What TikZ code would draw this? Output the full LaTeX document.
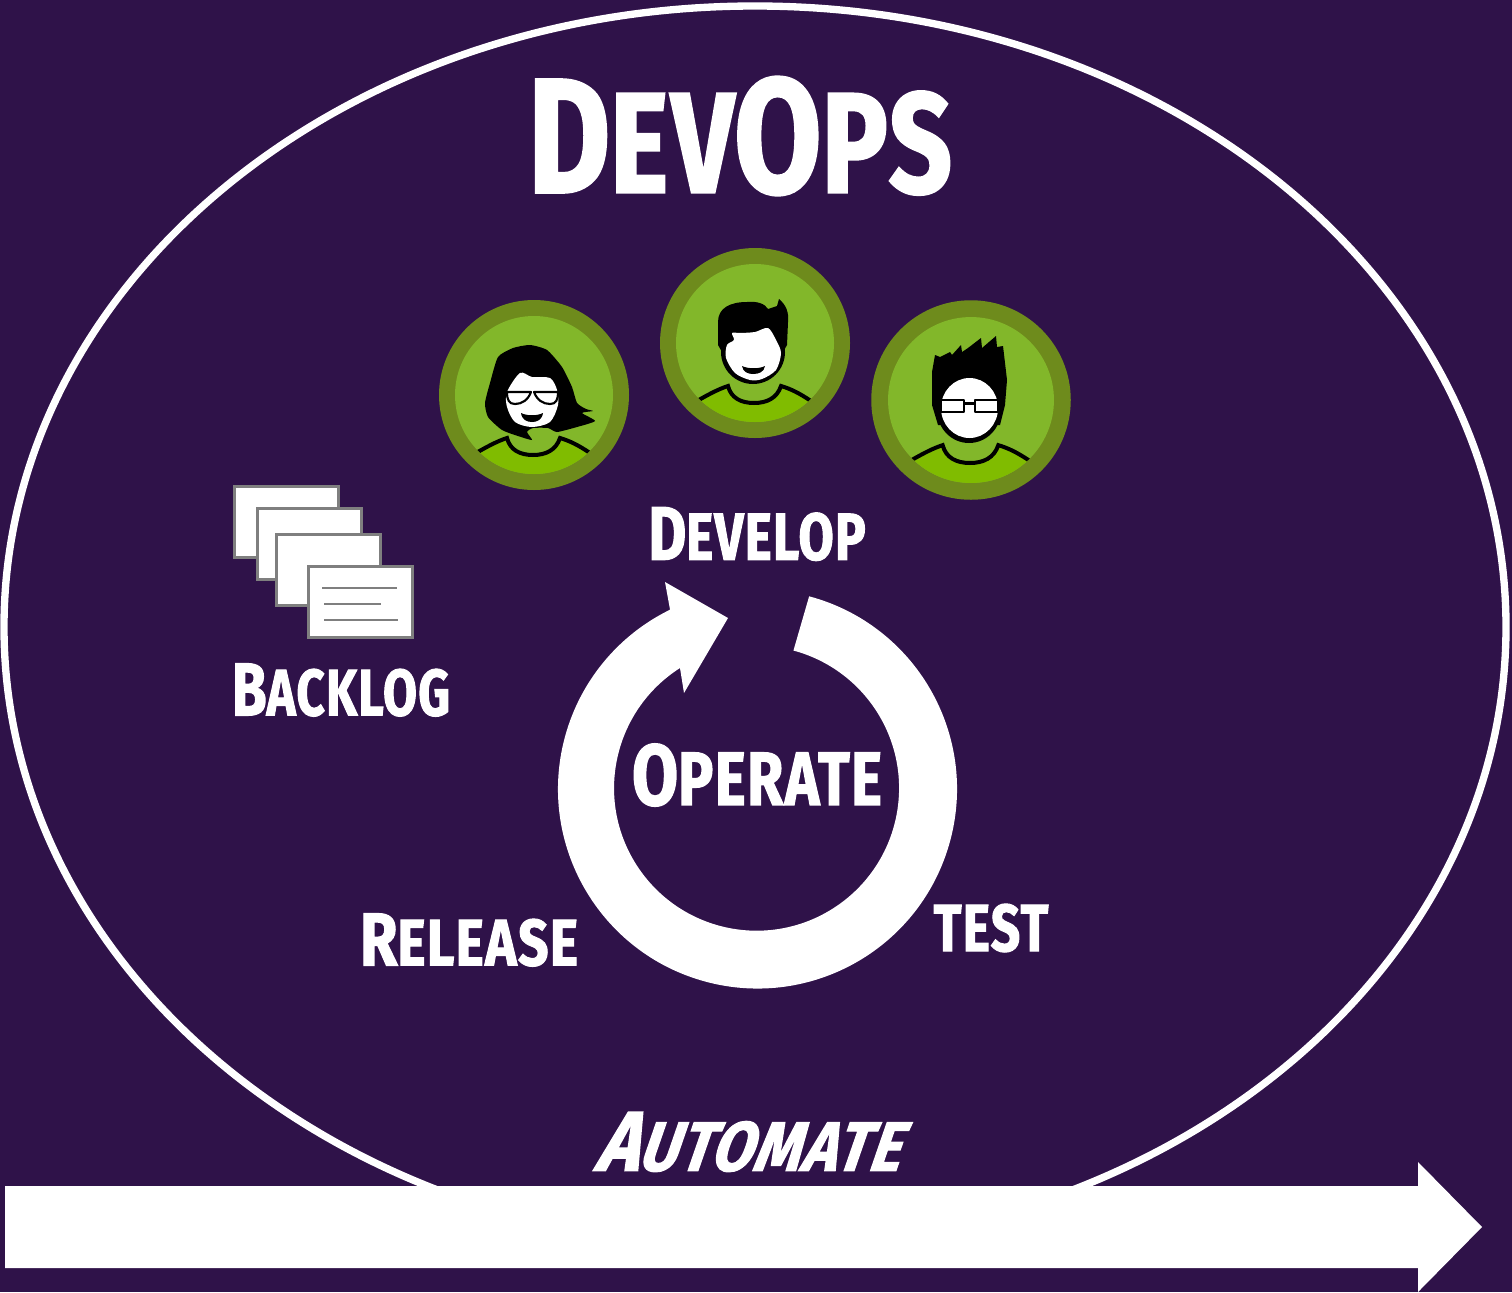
\documentclass[tikz,border=0pt]{standalone}
\usepackage{graphicx}
\usepackage{fontspec}
\newfontfamily\capsfont[FakeStretch=0.74,FakeBold=1.5,LetterSpace=2]{Fira Sans}
\newfontfamily\slantfont[FakeStretch=0.74,FakeBold=1.5,FakeSlant=0.3,LetterSpace=2]{Fira Sans}
\newcommand{\capword}[5]{\resizebox{#1}{#2}{\fontsize{40pt}{40pt}\selectfont #3\fontsize{#4}{#4}\selectfont #5}}
\definecolor{plum}{HTML}{2F1249}
\definecolor{ringgreen}{HTML}{6E8B1C}
\definecolor{facegreen}{HTML}{82B72A}
\definecolor{shirtgreen}{HTML}{80BC00}
\definecolor{cardgrey}{HTML}{7F7F7F}
\tikzset{
  word/.style={text=white,inner sep=0pt,anchor=center,font=\capsfont\bfseries},
  slantword/.style={word,font=\slantfont\bfseries},
  card/.style={draw=cardgrey,fill=white,line width=1.9pt},
  cardline/.style={draw=cardgrey,line width=0.9pt},
  glass/.style={draw=black,fill=white,line width=1.6pt,line join=round},
  badge/.pic={
    \fill[ringgreen] (0,0) circle [radius=95];
    \fill[facegreen] (0,0) circle [radius=79];
    \begin{scope}
      \clip (0,0) circle [radius=79];
      \fill[shirtgreen] (-56,57) .. controls (-44,50) and (-36,46) .. (-27,43) .. controls (-24,55) and (-14,60) .. (-1,60) .. controls (12,60) and (22,55) .. (26,43) .. controls (36,46) and (44,50) .. (54,57) -- (54,100) -- (-56,100) -- cycle;
      \draw[black,line width=3pt] (-58,58) .. controls (-44,50) and (-36,46) .. (-27,43) .. controls (-24,55) and (-14,60) .. (-1,60) .. controls (12,60) and (22,55) .. (26,43) .. controls (36,46) and (44,50) .. (56,58);
    \end{scope}
  }
}

\begin{document}
\begin{tikzpicture}[x=0.75pt,y=0.75pt,yscale=-1,xscale=1]
\useasboundingbox (0,0) rectangle (1512,1292);
\fill[plum] (0,0) rectangle (1512,1292);

% big ring round everything
\draw[white,line width=5.5pt] (755,627) ellipse [x radius=751,y radius=621];

% Automate arrow
\fill[white] (5,1186) -- (1418,1186) -- (1418,1162) -- (1482,1227) -- (1418,1292) -- (1418,1268) -- (5,1268) -- cycle;

% the three badges
\pic[yscale=-1] at (534,395) {badge};
\pic[yscale=-1] at (755,343) {badge};
\pic[scale=1.05,yscale=-1] at (971,400) {badge};

% left person
\fill[black] plot [smooth cycle,tension=0.35] coordinates {(498,357) (513,348) (530,345) (547,350) (562,367) (572,387) (577,403) (586,409) (593,411) (582,413) (595,421) (577,427) (557,432) (548,428) (533,428) (527,432) (532,440) (518,436) (502,430) (488,417) (485,403) (490,383)};
\fill[white] plot [smooth cycle,tension=0.5] coordinates {(507,392) (520,373) (532,377) (550,378) (557,390) (558,405) (550,422) (532,427) (515,422) (507,407)};
\draw[glass] (507,392) -- (531,392) .. controls (528,400) and (522,404) .. (515,404) .. controls (509,404) and (507,400) .. (507,392) -- cycle;
\draw[glass] (534,392) -- (558,392) .. controls (558,400) and (556,404) .. (550,404) .. controls (543,404) and (537,400) .. (534,392) -- cycle;
\fill[black] (521,413) .. controls (527,416) and (537,416) .. (543,413) .. controls (542,420) and (537,422) .. (532,422) .. controls (527,422) and (522,420) .. (521,413) -- cycle;

% middle person
\fill[black] (753,352) ellipse [x radius=32,y radius=32];
\fill[black] (718,345) -- (718,322) .. controls (718,308) and (730,302) .. (747,302) .. controls (758,301) and (765,304) .. (768,309) -- (777,306) -- (779,299) .. controls (786,305) and (789,312) .. (788,322) -- (787,345) -- (783,352) -- (722,352) -- cycle;
\fill[white] plot [smooth cycle,tension=0.5] coordinates {(732,333) (740,333) (755,332) (768,328) (776,340) (781,353) (776,370) (762,379) (750,380) (735,373) (726,358) (727,345) (734,340)};
\fill[black] (742,366) .. controls (748,369) and (759,369) .. (765,366) .. controls (764,372) and (759,374) .. (753,374) .. controls (748,374) and (743,372) .. (742,366) -- cycle;

% right person
\fill[black] (938,425) -- (932,405) -- (932,372) -- (935,355) -- (940,357) -- (950,352) -- (952,355) -- (961,345) -- (962,352) -- (968,348) -- (981,338) -- (982,348) -- (996,336) -- (997,347) -- (1003,346) -- (1007,380) -- (1005,405) -- (1000,425) -- cycle;
\fill[black] (969,410) ellipse [x radius=32,y radius=33];
\fill[white] (969.5,408) ellipse [x radius=28.5,y radius=30];
\fill[black] (964,402) rectangle (975,405);
\draw[glass] (941,400) rectangle (964,412);
\draw[glass] (975,400) rectangle (998,412);

% backlog cards
\foreach \cardx/\cardy in {234.5/486.5,257.5/508.5,276.5/534.5,308.5/566.5}
  \draw[card] (\cardx,\cardy) rectangle ++(104,71);
\draw[cardline] (322,588) -- (397,588);
\draw[cardline] (324,604) -- (381,604);
\draw[cardline] (324,620) -- (398,620);

% operate cycle
\fill[white] (757.5,789) ++(-75:199.5) arc [start angle=-75,end angle=244,radius=199.5] -- (665,582) -- (728,618) -- (684,693) -- (680,668) arc [start angle=237.5,end angle=-75,radius=142.5] -- cycle;

% words
\node[word] (title) at (740,136) {\capword{318pt}{87pt}{D}{35pt}{EV\fontsize{40pt}{40pt}\selectfont O\fontsize{35pt}{35pt}\selectfont PS}};
\node[word] (develop) at (757,534) {\capword{163pt}{39.5pt}{D}{35pt}{EVELOP}};
\node[word] (backlog) at (341,690) {\capword{163.5pt}{39pt}{B}{35pt}{ACKLOG}};
\node[word] (operate) at (757,775) {\capword{187.5pt}{46pt}{O}{35pt}{PERATE}};
\node[word] (release) at (469,940) {\capword{163.5pt}{39pt}{R}{35pt}{ELEASE}};
\node[word] (testword) at (991,928) {\capword{86pt}{35.5pt}{T}{40pt}{EST}};
\node[slantword] (automate) at (746,1142) {\capword{228pt}{44pt}{A}{33pt}{UTOMATE}};
\end{tikzpicture}
\end{document}
